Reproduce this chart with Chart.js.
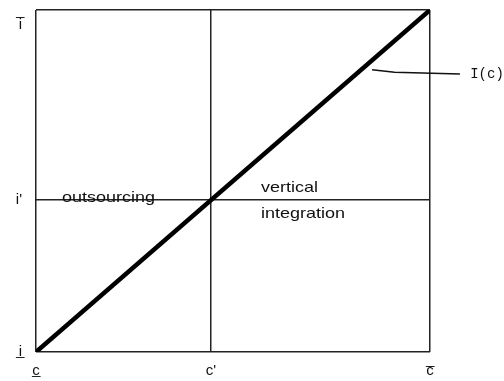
<!DOCTYPE html>
<html>
<head>
<meta charset="utf-8">
<script src="https://cdn.jsdelivr.net/npm/chart.js@4"></script>
<style>
  html, body { margin: 0; padding: 0; background: #fff; }
  #wrap { width: 504px; height: 381px; }
</style>
</head>
<body>
<div id="wrap"><canvas id="chart"></canvas></div>
<script>
// tick positions on a 0..1 scale (c' and i')
const xTicks = [0, 0.444, 1];
const xTickLabels = ["c\u0332", "c'", "c\u0305"];
const yTicks = [0, 0.444, 1];
const yTickLabels = ["i\u0332", "i'", ["", "", "", "", "i\u0305"]];

// I(c) curve
const curveX = [0, 1];
const curveY = [0, 1];

// leader line pointing at the curve label
const leaderX = [0.853, 0.91, 1.076];
const leaderY = [0.825, 0.818, 0.813];

// text notes: [label, x, y]
const notes = [
  ["outsourcing", 0.066, 0.452],
  ["vertical", 0.571, 0.479],
  ["integration", 0.571, 0.404],
];
const curveLabel = ["I(c)", 1.102, 0.813];

const toPoints = (xs, ys) => xs.map((x, i) => ({ x, y: ys[i] }));

const notesPlugin = {
  id: "notes",
  afterDatasetsDraw(chart) {
    const { ctx, scales: { x, y } } = chart;
    ctx.save();
    ctx.fillStyle = "#111";
    ctx.textBaseline = "middle";
    notes.forEach(([text, nx, ny]) => {
      const px = x.getPixelForValue(nx);
      const py = y.getPixelForValue(ny);
      ctx.save();
      ctx.translate(px, py);
      ctx.scale(1.2, 1);
      ctx.font = "15px 'Liberation Sans', Arial, sans-serif";
      ctx.textAlign = "left";
      ctx.fillText(text, 0, 0);
      ctx.restore();
    });
    ctx.font = "14px 'Liberation Mono', 'Courier New', monospace";
    ctx.textAlign = "left";
    ctx.fillText(curveLabel[0], x.getPixelForValue(curveLabel[1]), y.getPixelForValue(curveLabel[2]));
    ctx.restore();
  }
};

new Chart(document.getElementById("chart"), {
  type: "scatter",
  data: {
    datasets: [
      {
        data: toPoints(leaderX, leaderY),
        showLine: true,
        borderColor: "#111",
        borderWidth: 1.5,
        pointRadius: 0,
        clip: false
      },
      {
        data: toPoints(curveX, curveY),
        showLine: true,
        borderColor: "#000",
        borderWidth: 4.5,
        pointRadius: 0
      }
    ]
  },
  options: {
    responsive: true,
    maintainAspectRatio: false,
    animation: false,
    layout: { padding: { top: 10, right: 74, left: 0, bottom: 0 } },
    plugins: {
      legend: { display: false },
      tooltip: { enabled: false }
    },
    scales: {
      x: {
        type: "linear",
        min: 0,
        max: 1,
        afterBuildTicks: (scale) => { scale.ticks = xTicks.map((value) => ({ value })); },
        afterFit: (scale) => { scale.height = 29; },
        grid: { color: "#222", lineWidth: 1.5, drawTicks: false },
        border: { display: false },
        ticks: {
          padding: 10,
          color: "#111",
          font: { family: "'Liberation Sans', Arial, sans-serif", size: 15 },
          callback: (value) => xTickLabels[xTicks.indexOf(value)]
        }
      },
      y: {
        type: "linear",
        min: 0,
        max: 1,
        afterBuildTicks: (scale) => { scale.ticks = yTicks.map((value) => ({ value })); },
        afterFit: (scale) => {
          scale.width = 36;
          scale.paddingTop = 0;
          scale.paddingBottom = 0;
        },
        grid: { color: "#222", lineWidth: 1.5, drawTicks: false },
        border: { display: false },
        ticks: {
          padding: 14,
          color: "#111",
          font: { family: "'Liberation Sans', Arial, sans-serif", size: 15, lineHeight: 0.5 },
          callback: (value) => yTickLabels[yTicks.indexOf(value)]
        }
      }
    }
  },
  plugins: [notesPlugin]
});
</script>
</body>
</html>
